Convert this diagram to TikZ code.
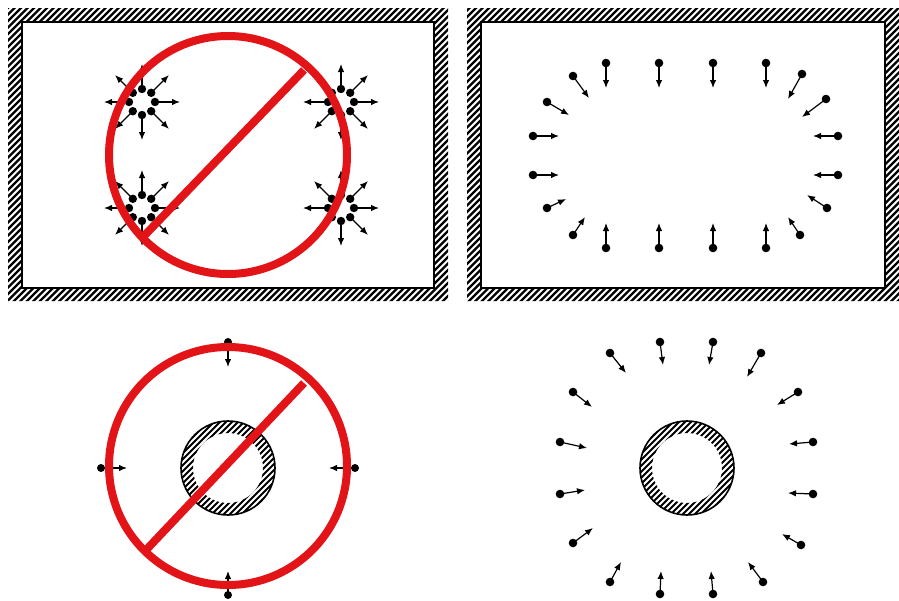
\documentclass[tikz,border=0pt]{standalone}
\usepackage{tikz}
\usepackage{xcolor}
\usetikzlibrary{arrows.meta}
\definecolor{banred}{RGB}{226,20,24}

\begin{document}
\begin{tikzpicture}[
    x=1pt, y=-1pt,
    wall/.style={line width=2pt},
    hatch/.style={line width=2.3pt},
    arr/.style={-{Latex[length=8pt,width=6.5pt]}, line width=1.2pt},
    ban/.style={draw=banred, line width=8pt},
]
\useasboundingbox (0,0) rectangle (899,600);

% walls of the two boxes
\foreach \xa/\xb in {8/448, 467/899} {
  \begin{scope}[even odd rule]
    \clip (\xa,8) rectangle (\xb,301) (\xa+14,22) rectangle (\xb-14,288);
    \foreach \s in {-320,-313.5,...,900} \draw[hatch] (\s,310) -- (\s+310,0);
  \end{scope}
  \draw[wall] (\xa+14,22) rectangle (\xb-14,288);
}

% hatched cylinders
\foreach \cx in {228, 687} {
  \begin{scope}[even odd rule]
    \clip (\cx,468) circle (47pt) (\cx,468) circle (35pt);
    \foreach \s in {-72,-66,...,72} \draw[line width=2pt] (\cx+\s-60,528) -- (\cx+\s+60,408);
  \end{scope}
  \draw[line width=1.6pt] (\cx,468) circle (47pt);
}

% clusters in the first box
\foreach \cx/\cy in {142/102, 341/102, 142/208, 341/208} {
  \begin{scope}[shift={(\cx,\cy)}]
    \foreach \a in {0,45,...,315} {
      \draw[arr] (\a:13pt) -- (\a:38pt);
      \fill (\a:13pt) circle (4.2pt);
    }
  \end{scope}
}

% molecules in the second box
\foreach \px/\py/\tx/\ty in {606/63/606/88, 659/63/659/88, 713/63/713/88, 766/63/766/88,
    606/248/606/223, 659/248/659/223, 713/248/713/223, 766/248/766/223,
    533/136/559/136, 533/175/559/175, 838/136/813/136, 838/175/813/175,
    573/76/589/98, 547/102/569/115, 802/74/788/99, 826/99/802/117,
    547/208/566/199, 573/235/585/217, 827/208/807/195, 800/235/788/217} {
  \draw[arr] (\px,\py) -- (\tx,\ty);
  \fill (\px,\py) circle (4.3pt);
}

% molecules round the second cylinder
\foreach \px/\py/\tx/\ty in {660/342/663/365, 713/342/709/365, 610/353/626/373, 761/353/747/377,
    573/392/592/407, 798/392/777/405, 560/442/587/448, 813/442/789/444,
    560/494/585/490, 813/494/788/493, 573/543/593/528, 801/545/782/534,
    610/582/621/562, 763/582/748/562, 660/594/661/571, 713/594/711/571} {
  \draw[arr] (\px,\py) -- (\tx,\ty);
  \fill (\px,\py) circle (4.3pt);
}

% molecules round the first cylinder
\foreach \px/\py/\tx/\ty in {228/342/228/367, 101/468/127/468, 355/468/329/468, 228/595/228/571} {
  \draw[arr] (\px,\py) -- (\tx,\ty);
  \fill (\px,\py) circle (4pt);
}

% crossed out
\draw[ban] (228,155) circle (119pt);
\draw[ban] (143,237) -- (304,70);
\draw[ban] (228,466) circle (119pt);
\draw[ban] (147,549) -- (304,383);
\end{tikzpicture}
\end{document}
